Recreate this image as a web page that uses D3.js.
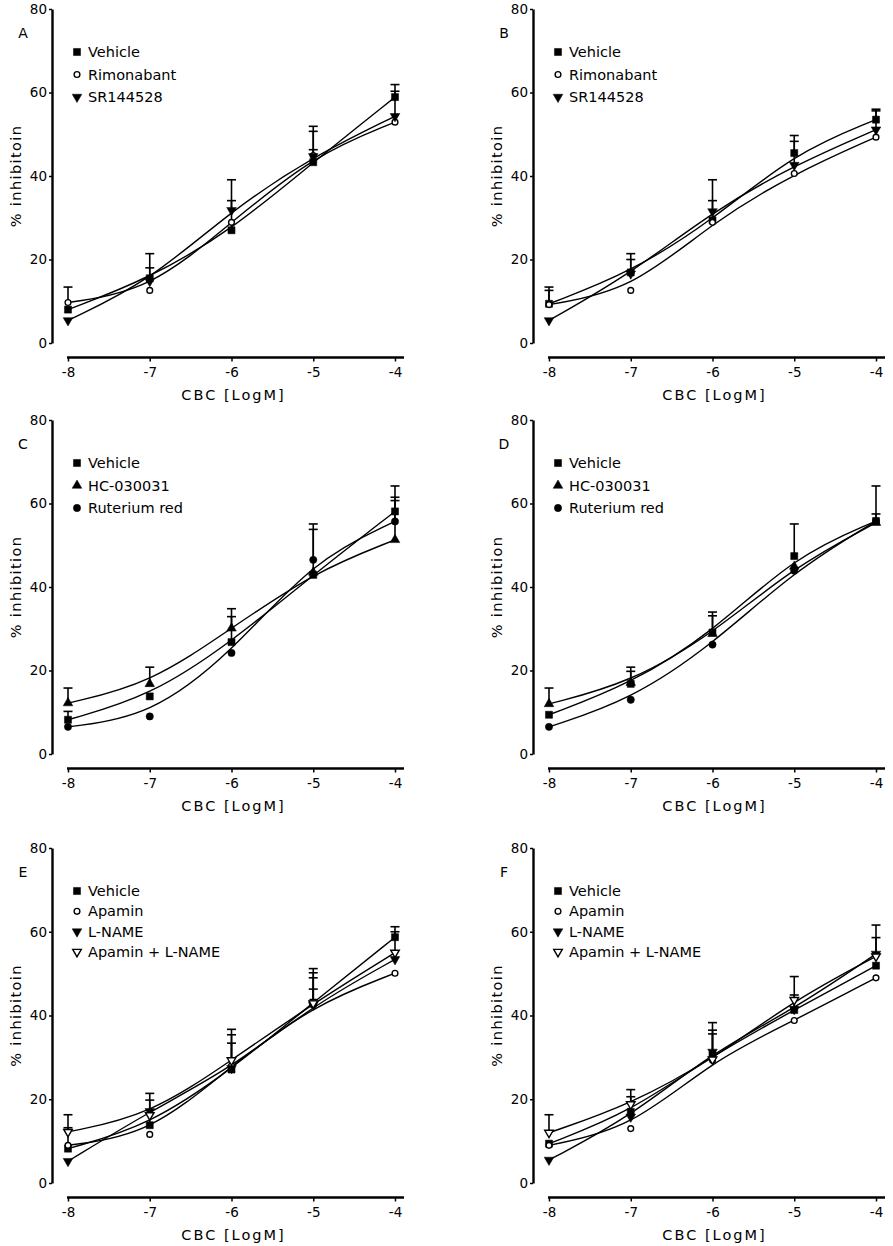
<!DOCTYPE html>
<html>
<head>
<meta charset="utf-8">
<script src="https://cdn.jsdelivr.net/npm/d3@7"></script>
<style>
  body { margin: 0; background: #fff; }
  svg text { font-family: "DejaVu Sans", Arial, sans-serif; fill: #000; }
</style>
</head>
<body>
<div id="chart"></div>
<script>
// concentrations (log M) and y ticks
var doses = [-8, -7, -6, -5, -4];
var yTicks = [0, 20, 40, 60, 80];

// panel A
var aVehicle = [8.0, 15.5, 27.0, 43.3, 58.9];
var aVehicleSem = [null, 5.9, 12.1, 8.6, 3.0];
var aRimonabant = [9.7, 12.6, 28.9, 44.9, 52.9];
var aRimonabantSem = [3.7, null, null, 5.8, null];
var aSR = [5.4, 14.8, 31.8, 44.7, 54.3];
var aSRSem = [null, 3.2, 2.3, 1.6, 6.0];

// panel B
var bVehicle = [9.4, 16.9, 29.4, 45.5, 53.5];
var bVehicleSem = [4.0, 4.5, 9.7, 4.2, 2.5];
var bRimonabant = [9.2, 12.6, 28.9, 40.6, 49.3];
var bRimonabantSem = [3.4, null, null, null, null];
var bSR = [5.4, 16.6, 31.5, 42.6, 51.1];
var bSRSem = [null, 3.4, 2.6, 5.7, 4.5];

// panel C
var cVehicle = [8.2, 13.8, 26.8, 42.9, 58.1];
var cVehicleSem = [2.0, null, 6.1, 10.9, 3.4];
var cHC = [12.2, 16.8, 30.1, 43.5, 51.3];
var cHCSem = [3.6, 4.0, 4.7, null, 9.4];
var cRuthenium = [6.5, 9.0, 24.2, 46.5, 55.7];
var cRutheniumSem = [null, null, null, 8.6, 8.5];

// panel D
var dVehicle = [9.4, 16.8, 29.1, 47.4, 55.8];
var dVehicleSem = [null, 3.0, 4.9, 7.7, 8.4];
var dHC = [12.0, 17.1, 28.8, 44.9, 55.4];
var dHCSem = [3.8, 3.7, 4.3, null, 2.1];
var dRuthenium = [6.5, 13.0, 26.2, 43.9, 55.8];
var dRutheniumSem = [null, null, null, null, null];

// panel E
var eVehicle = [8.2, 13.8, 27.1, 43.1, 58.7];
var eVehicleSem = [5.0, 6.0, 9.6, 8.1, 2.5];
var eApamin = [9.0, 11.6, 28.0, 42.5, 50.1];
var eApaminSem = [null, null, 5.4, 3.8, null];
var eLName = [5.2, 17.1, 27.4, 42.5, 53.4];
var eLNameSem = [null, 4.3, 8.0, 7.7, 6.6];
var eBoth = [12.2, 16.2, 29.3, 42.9, 55.0];
var eBothSem = [4.1, null, null, 6.1, null];

// panel F
var fVehicle = [9.4, 17.0, 30.5, 41.3, 51.9];
var fVehicleSem = [null, 3.6, 5.1, 8.0, null];
var fApamin = [9.0, 13.0, 29.3, 38.8, 49.0];
var fApaminSem = [null, null, null, null, null];
var fLName = [5.5, 15.8, 31.3, 41.5, 54.7];
var fLNameSem = [null, 6.5, 7.0, 3.4, 6.9];
var fBoth = [12.0, 18.8, 29.5, 43.7, 54.1];
var fBothSem = [4.3, null, 7.0, null, 4.5];

var panels = [
  {letter: "A", ax: 52, y0: 343, y80: 9, ylab: "% inhibitoin", series: [
    {name: "Vehicle", sym: "square", v: aVehicle, sem: aVehicleSem},
    {name: "Rimonabant", sym: "circleOpen", v: aRimonabant, sem: aRimonabantSem},
    {name: "SR144528", sym: "triDown", v: aSR, sem: aSRSem}]},
  {letter: "B", ax: 533, y0: 343, y80: 9, ylab: "% inhibitoin", series: [
    {name: "Vehicle", sym: "square", v: bVehicle, sem: bVehicleSem},
    {name: "Rimonabant", sym: "circleOpen", v: bRimonabant, sem: bRimonabantSem},
    {name: "SR144528", sym: "triDown", v: bSR, sem: bSRSem}]},
  {letter: "C", ax: 52, y0: 754, y80: 420, ylab: "% inhibition", series: [
    {name: "Vehicle", sym: "square", v: cVehicle, sem: cVehicleSem},
    {name: "HC-030031", sym: "triUp", v: cHC, sem: cHCSem},
    {name: "Ruterium red", sym: "circle", v: cRuthenium, sem: cRutheniumSem}]},
  {letter: "D", ax: 533, y0: 754, y80: 420, ylab: "% inhibition", series: [
    {name: "Vehicle", sym: "square", v: dVehicle, sem: dVehicleSem},
    {name: "HC-030031", sym: "triUp", v: dHC, sem: dHCSem},
    {name: "Ruterium red", sym: "circle", v: dRuthenium, sem: dRutheniumSem}]},
  {letter: "E", ax: 52, y0: 1183, y80: 848, ylab: "% inhibitoin", series: [
    {name: "Vehicle", sym: "square", v: eVehicle, sem: eVehicleSem},
    {name: "Apamin", sym: "circleOpen", v: eApamin, sem: eApaminSem},
    {name: "L-NAME", sym: "triDown", v: eLName, sem: eLNameSem},
    {name: "Apamin + L-NAME", sym: "triDownOpen", v: eBoth, sem: eBothSem}]},
  {letter: "F", ax: 533, y0: 1183, y80: 848, ylab: "% inhibitoin", series: [
    {name: "Vehicle", sym: "square", v: fVehicle, sem: fVehicleSem},
    {name: "Apamin", sym: "circleOpen", v: fApamin, sem: fApaminSem},
    {name: "L-NAME", sym: "triDown", v: fLName, sem: fLNameSem},
    {name: "Apamin + L-NAME", sym: "triDownOpen", v: fBoth, sem: fBothSem}]}
];

var svg = d3.select("#chart").append("svg")
  .attr("width", 893)
  .attr("height", 1246);

function drawMarker(g, sym, x, y) {
  var open = sym == "circleOpen" || sym == "triDownOpen";
  var type = d3.symbolSquare, size = 50, rot = 0;
  if (sym == "circle") { type = d3.symbolCircle; size = 42; }
  if (sym == "circleOpen") { type = d3.symbolCircle; size = 26; }
  if (sym == "triUp") { type = d3.symbolTriangle; size = 40; }
  if (sym == "triDown" || sym == "triDownOpen") { type = d3.symbolTriangle; size = 40; rot = 180; }
  if (sym == "triDownOpen") size = 32;
  g.append("path")
    .attr("d", d3.symbol().type(type).size(size)())
    .attr("transform", "translate(" + x + "," + y + ") rotate(" + rot + ")")
    .attr("fill", open ? "#fff" : "#000")
    .attr("stroke", "#000")
    .attr("stroke-width", open ? 1.4 : 0.5);
}

panels.forEach(function (p) {
  var g = svg.append("g");
  var x = d3.scaleLinear().domain([-8, -4]).range([p.ax + 16, p.ax + 343]);
  var y = d3.scaleLinear().domain([0, 80]).range([p.y0, p.y80]);

  // y axis
  var yAxis = g.append("g")
    .attr("transform", "translate(" + p.ax + ",0)")
    .call(d3.axisLeft(y).tickValues(yTicks).tickSize(3).tickPadding(2).tickSizeOuter(0));
  yAxis.select(".domain").attr("stroke-width", 2.4);
  yAxis.selectAll(".tick line").attr("stroke-width", 1.5);
  yAxis.selectAll("text").attr("font-size", 13.5).style("font-family", "DejaVu Sans, Arial, sans-serif");

  // x axis
  var xy = p.y0 + 14.5;
  var xAxis = g.append("g")
    .attr("transform", "translate(0," + xy + ")")
    .call(d3.axisBottom(x).tickValues(doses).tickFormat(function (d) { return String(d); })
      .tickSize(4).tickPadding(6).tickSizeOuter(0));
  xAxis.select(".domain").remove();
  xAxis.append("line")
    .attr("x1", x(-8) - 1).attr("x2", x(-4) + 9)
    .attr("stroke", "#000").attr("stroke-width", 2.6);
  xAxis.selectAll(".tick line").attr("stroke-width", 1.5);
  xAxis.selectAll("text").attr("font-size", 13.5).style("font-family", "DejaVu Sans, Arial, sans-serif");

  g.append("text")
    .attr("x", (x(-8) + x(-4)) / 2 + 2)
    .attr("y", p.y0 + 57)
    .attr("text-anchor", "middle")
    .attr("font-size", 14.5)
    .attr("letter-spacing", 2)
    .text("CBC [LogM]");

  g.append("text")
    .attr("transform", "translate(" + (p.ax - 31) + "," + ((p.y0 + p.y80) / 2) + ") rotate(-90)")
    .attr("text-anchor", "middle")
    .attr("font-size", 14.5)
    .attr("letter-spacing", 1.4)
    .text(p.ylab);

  g.append("text")
    .attr("x", p.ax - 29)
    .attr("y", p.y80 + 29)
    .attr("text-anchor", "middle")
    .attr("font-size", 14)
    .text(p.letter);

  // legend
  var step = p.series.length > 3 ? 20.3 : 22.5;
  p.series.forEach(function (s, i) {
    var ly = p.y80 + 43 + i * step;
    drawMarker(g, s.sym, p.ax + 25, ly);
    g.append("text")
      .attr("x", p.ax + 36)
      .attr("y", ly + 5)
      .attr("font-size", 14.5)
      .text(s.name);
  });

  var line = d3.line()
    .x(function (d, i) { return x(doses[i]); })
    .y(function (d) { return y(d); })
    .curve(d3.curveBasis);

  p.series.forEach(function (s) {
    g.append("path")
      .attr("d", line(s.v))
      .attr("fill", "none")
      .attr("stroke", "#000")
      .attr("stroke-width", 1.4);
  });

  // error bars (upper only)
  p.series.forEach(function (s) {
    s.v.forEach(function (v, i) {
      if (s.sem[i] == null) return;
      var cx = x(doses[i]);
      var top = y(v + s.sem[i]);
      g.append("line")
        .attr("x1", cx).attr("x2", cx)
        .attr("y1", y(v)).attr("y2", top)
        .attr("stroke", "#000").attr("stroke-width", 1.6);
      g.append("line")
        .attr("x1", cx - 4.5).attr("x2", cx + 4.5)
        .attr("y1", top).attr("y2", top)
        .attr("stroke", "#000").attr("stroke-width", 1.6);
    });
  });

  p.series.forEach(function (s) {
    s.v.forEach(function (v, i) {
      drawMarker(g, s.sym, x(doses[i]), y(v));
    });
  });
});
</script>
</body>
</html>
